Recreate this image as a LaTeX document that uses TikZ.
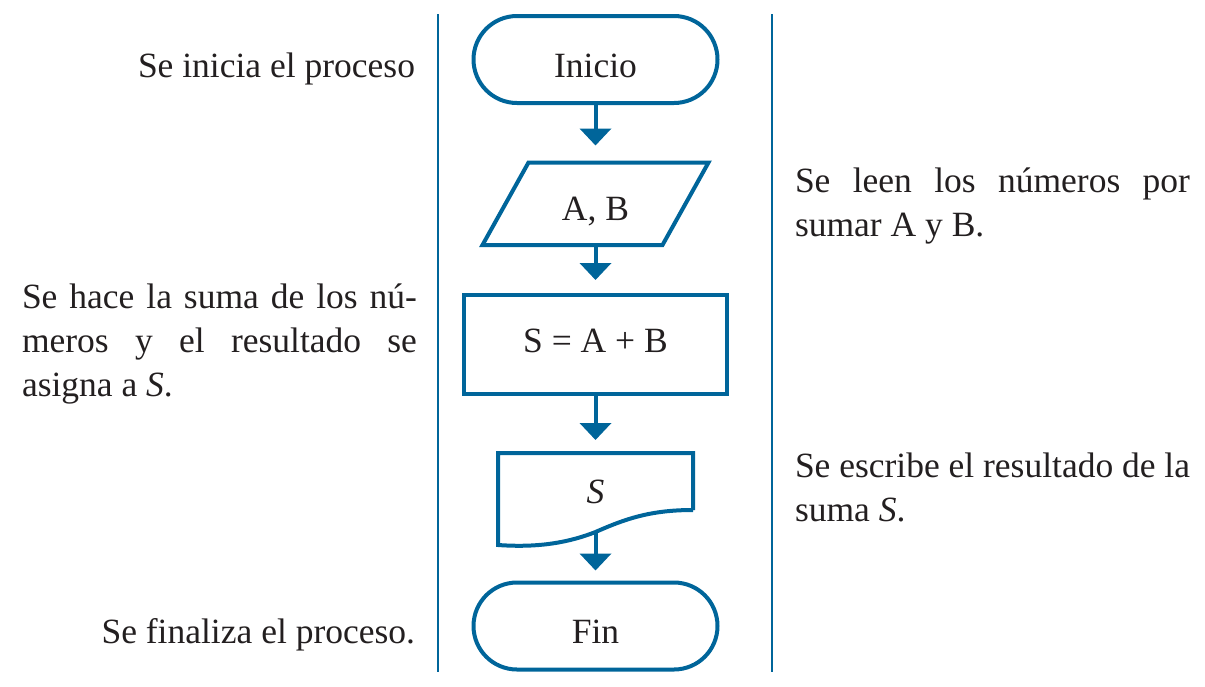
\documentclass[tikz,border=0pt]{standalone}
\usepackage{fontspec}
\setmainfont{Liberation Serif}
\usetikzlibrary{arrows.meta}
\definecolor{fblue}{HTML}{00659A}
\definecolor{ftext}{HTML}{231F20}
\tikzset{
  every node/.style={inner sep=0pt, outer sep=0pt, text=ftext,
    font=\fontsize{35.5}{44}\selectfont},
  shapeline/.style={draw=fblue, line width=4pt, line join=miter},
  term/.style={shapeline, rounded corners=43.5pt, minimum width=244pt, minimum height=87pt},
  procbox/.style={shapeline, minimum width=263pt, minimum height=99pt},
  blankbox/.style={draw=none},
  flow/.style={draw=fblue, line width=4pt, -{Triangle[width=31pt,length=17pt]}},
  sepline/.style={draw=fblue, line width=2.2pt},
}
\newcommand{\jline}[1]{\makebox[395pt][s]{#1}}
\begin{document}
\begin{tikzpicture}[x=1pt,y=-1pt]
\useasboundingbox (0,0) rectangle (1205,686);

% separators
\coordinate (l1) at (438,14); \coordinate (l2) at (438,672);
\coordinate (r1) at (772,14); \coordinate (r2) at (772,672);
\draw[sepline] (l1) -- (l2);
\draw[sepline] (r1) -- (r2);

% flowchart shapes
\node[term, text height=35pt, text depth=0pt] (inicio) at (595.5,59.5) {Inicio};

\node[blankbox, minimum width=226pt, minimum height=82.5pt, text height=33pt, text depth=0pt] (ab) at (595.5,203.75) {A, B};
\draw[shapeline] (ab.south west) -- ([xshift=-46pt]ab.south east) -- (ab.north east) -- ([xshift=46pt]ab.north west) -- cycle;

\node[procbox, text height=15pt, text depth=0pt] (sum) at (595.5,344.5) {S = A + B};

\node[blankbox, minimum width=195pt, minimum height=92pt, text height=8pt, text depth=0pt] (doc) at (595.5,499) {\textit{S}};
\coordinate (docw) at (595.5,532);
\coordinate (docr) at (693,510);
\draw[shapeline] (docr) -- (doc.north east) -- (doc.north west) -- (doc.south west)
  .. controls (540,548) and (570,542) .. (docw)
  .. controls (625,519) and (650,510) .. (docr);

\node[term, text height=34pt, text depth=0pt] (fin) at (595.5,626) {Fin};

% connectors
\draw[flow, shorten >=17pt] (inicio.south) -- (ab.north);
\draw[flow, shorten >=15pt] (ab.south) -- (sum.north);
\draw[flow, shorten >=13pt] (sum.south) -- (doc.north);
\draw[flow, shorten >=12pt] (docw) -- (fin.north);

% descriptions
\node[anchor=base east] (t1) at (415,77) {Se inicia el proceso};
\node[anchor=base west] (t2) at (795,192) {\parbox[t]{395pt}{\jline{Se leen los números por}\\sumar A y B.}};
\node[anchor=base west] (t3) at (22,308) {\parbox[t]{395pt}{\jline{Se hace la suma de los nú-}\\\jline{meros y el resultado se}\\asigna a \textit{S}.}};
\node[anchor=base west] (t4) at (795,477) {\parbox[t]{395pt}{\jline{Se escribe el resultado de la}\\suma \textit{S}.}};
\node[anchor=base east] (t5) at (415,643) {Se finaliza el proceso.};
\end{tikzpicture}
\end{document}
